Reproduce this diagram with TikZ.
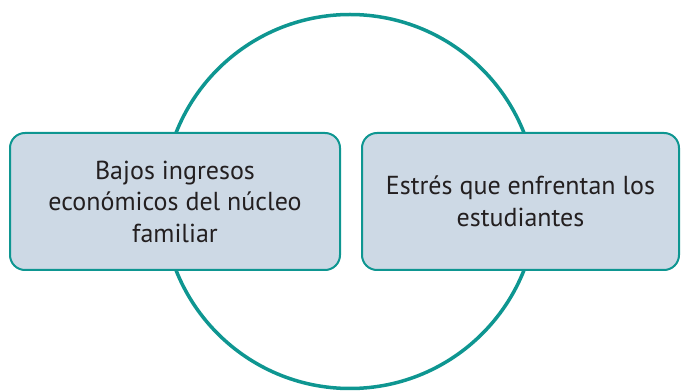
\documentclass[tikz,border=0pt]{standalone}
\usepackage{fontspec}
\setmainfont{PT Sans}
\definecolor{ringteal}{HTML}{0E9691}
\definecolor{boxfill}{HTML}{CDD9E5}
\definecolor{textgray}{HTML}{231F20}

\begin{document}
\begin{tikzpicture}[x=1pt, y=1pt,
    causebox/.style={draw=ringteal, line width=2pt, fill=boxfill, rounded corners=15pt,
      align=center, text=textgray, font=\fontsize{26}{31.5}\selectfont,
      inner sep=0pt, minimum height=137pt}]
  \useasboundingbox (0, 0) rectangle (681, 391);

  \draw[ringteal, line width=3.5pt] (350, 189.5) circle (187);

  \node[causebox, minimum width=330pt] (ingresos) at (175, 189.5)
    {Bajos ingresos\\econ\'omicos del n\'ucleo\\familiar};
  \node[causebox, minimum width=317pt] (estres) at (520.5, 189.5)
    {Estr\'es que enfrentan los\\estudiantes};
\end{tikzpicture}
\end{document}
